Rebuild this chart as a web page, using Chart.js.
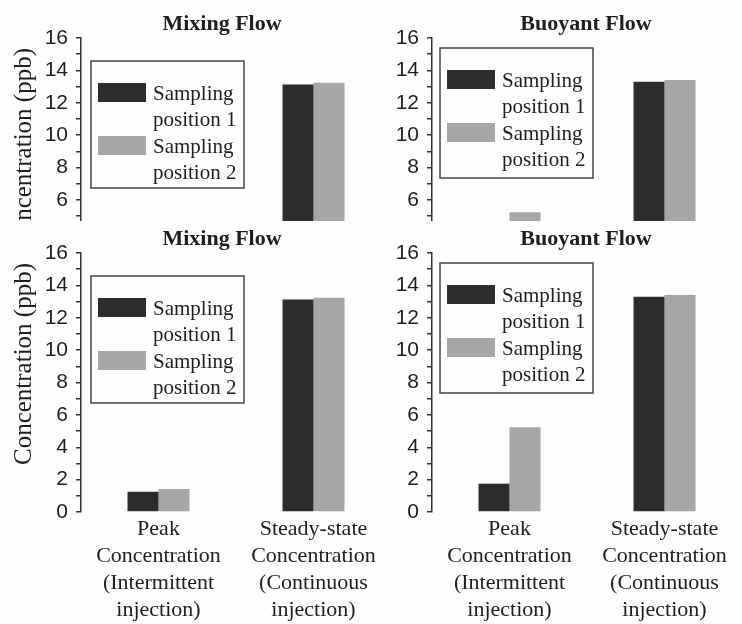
<!DOCTYPE html>
<html>
<head>
<meta charset="utf-8">
<script src="https://cdn.jsdelivr.net/npm/chart.js@4.4.1/dist/chart.umd.min.js"></script>
<style>
  html, body { margin:0; padding:0; background:#fdfdfd; }
  #fig { position:relative; width:742px; height:624px; overflow:hidden; }
  /* the upper row is the same figure, cut off just above the 5 ppb line */
  #crop { position:absolute; left:0; top:0; width:742px; height:221px; overflow:hidden; }
  canvas { position:absolute; }
  .left { left:0; }
  .right { left:371px; }
  #crop canvas { top:0; }
  .low { top:215px; }
</style>
</head>
<body>
<div id="fig">
  <div id="crop">
    <canvas id="c-mix-top" class="left" width="391" height="409"></canvas>
    <canvas id="c-buoy-top" class="right" width="371" height="409"></canvas>
  </div>
  <canvas id="c-mix" class="left low" width="391" height="409"></canvas>
  <canvas id="c-buoy" class="right low" width="371" height="409"></canvas>
</div>
<script>
// ---- data ----
const categories = [
  ['Peak', 'Concentration', '(Intermittent', 'injection)'],
  ['Steady-state', 'Concentration', '(Continuous', 'injection)']
];
const seriesLabels = ['Sampling position 1', 'Sampling position 2'];
const mixingPos1  = [1.25, 13.13];
const mixingPos2  = [1.42, 13.23];
const buoyantPos1 = [1.75, 13.29];
const buoyantPos2 = [5.23, 13.40];
const yMajorTicks = [0, 2, 4, 6, 8, 10, 12, 14, 16];

const INK = '#1e1e1e', AXIS = '#333', DARK = '#2c2c2c', LIGHT = '#a6a6a6';

// title, rotated y title and boxed legend, placed like the original figure
const panelDeco = {
  id: 'panelDeco',
  afterDraw(chart, args, opts){
    const ctx = chart.ctx;
    ctx.save();
    ctx.fillStyle = INK;
    ctx.textAlign = 'center';
    ctx.textBaseline = 'alphabetic';
    ctx.font = 'bold 22px "Liberation Serif"';
    ctx.fillText(opts.title, opts.titleX, 30);

    if(opts.yTitle){
      ctx.save();
      ctx.translate(opts.yTitleX, opts.yTitleY);
      ctx.rotate(-Math.PI / 2);
      ctx.font = '25px "Liberation Serif"';
      ctx.textBaseline = 'middle';
      ctx.fillText(opts.yTitle, 0, 0);
      ctx.restore();
    }

    const lg = opts.legend;
    ctx.lineWidth = 1.5;
    ctx.strokeStyle = '#444';
    ctx.strokeRect(lg.x, lg.y, lg.w, lg.h);
    ctx.font = '21px "Liberation Serif"';
    ctx.textAlign = 'left';
    chart.data.datasets.forEach((ds, i) => {
      const top = lg.y + 22 + i * 53;
      ctx.fillStyle = ds.backgroundColor;
      ctx.fillRect(lg.x + 7, top, 48, 19);
      ctx.fillStyle = INK;
      const sp = ds.label.indexOf(' ');
      ctx.fillText(ds.label.slice(0, sp), lg.x + 62, top + 17);
      ctx.fillText(ds.label.slice(sp + 1), lg.x + 62, top + 43);
    });
    ctx.restore();
  }
};

function makePanel(id, pos1, pos2, deco, axisWidth){
  return new Chart(document.getElementById(id), {
    type:'bar',
    data:{
      labels: categories,
      datasets:[
        { label: seriesLabels[0], data: pos1, backgroundColor: DARK },
        { label: seriesLabels[1], data: pos2, backgroundColor: LIGHT }
      ]
    },
    options:{
      responsive:false, animation:false,
      layout:{ padding:{ top:38, left:0, right:0, bottom:0 } },
      datasets:{ bar:{ categoryPercentage:0.4, barPercentage:1 } },
      plugins:{ legend:{ display:false }, tooltip:{ enabled:false }, title:{ display:false }, panelDeco: deco },
      scales:{
        x:{
          offset:true,
          grid:{ display:false }, border:{ display:false },
          ticks:{ color:INK, padding:-4, autoSkip:false, maxRotation:0,
                  font:{ family:'"Liberation Serif"', size:22, lineHeight:'27px' } },
          afterFit: s => { s.height = 112; }
        },
        y:{
          min:0, max:16,
          border:{ display:true, color:AXIS, width:1.5 },
          grid:{ drawOnChartArea:false, drawTicks:true, tickLength:5, color:AXIS, lineWidth:1.5 },
          ticks:{ stepSize:1, autoSkip:false, padding:8, color:INK,
                  font:{ family:'"Liberation Sans"', size:21 },
                  callback: v => yMajorTicks.includes(v) ? String(v) : '' },
          afterFit: s => { s.width = axisWidth; }
        }
      }
    },
    plugins:[panelDeco]
  });
}

const mixDeco = { title:'Mixing Flow', titleX:222, yTitle:'Concentration (ppb)', yTitleX:24, yTitleY:149,
                  legend:{ x:91, y:61, w:153, h:127 } };
const buoyDeco = { title:'Buoyant Flow', titleX:215, yTitle:'',
                   legend:{ x:69, y:48, w:153, h:130 } };

makePanel('c-mix-top', mixingPos1, mixingPos2, mixDeco, 81);
makePanel('c-buoy-top', buoyantPos1, buoyantPos2, buoyDeco, 61);
makePanel('c-mix', mixingPos1, mixingPos2, mixDeco, 81);
makePanel('c-buoy', buoyantPos1, buoyantPos2, buoyDeco, 61);
</script>
</body>
</html>
